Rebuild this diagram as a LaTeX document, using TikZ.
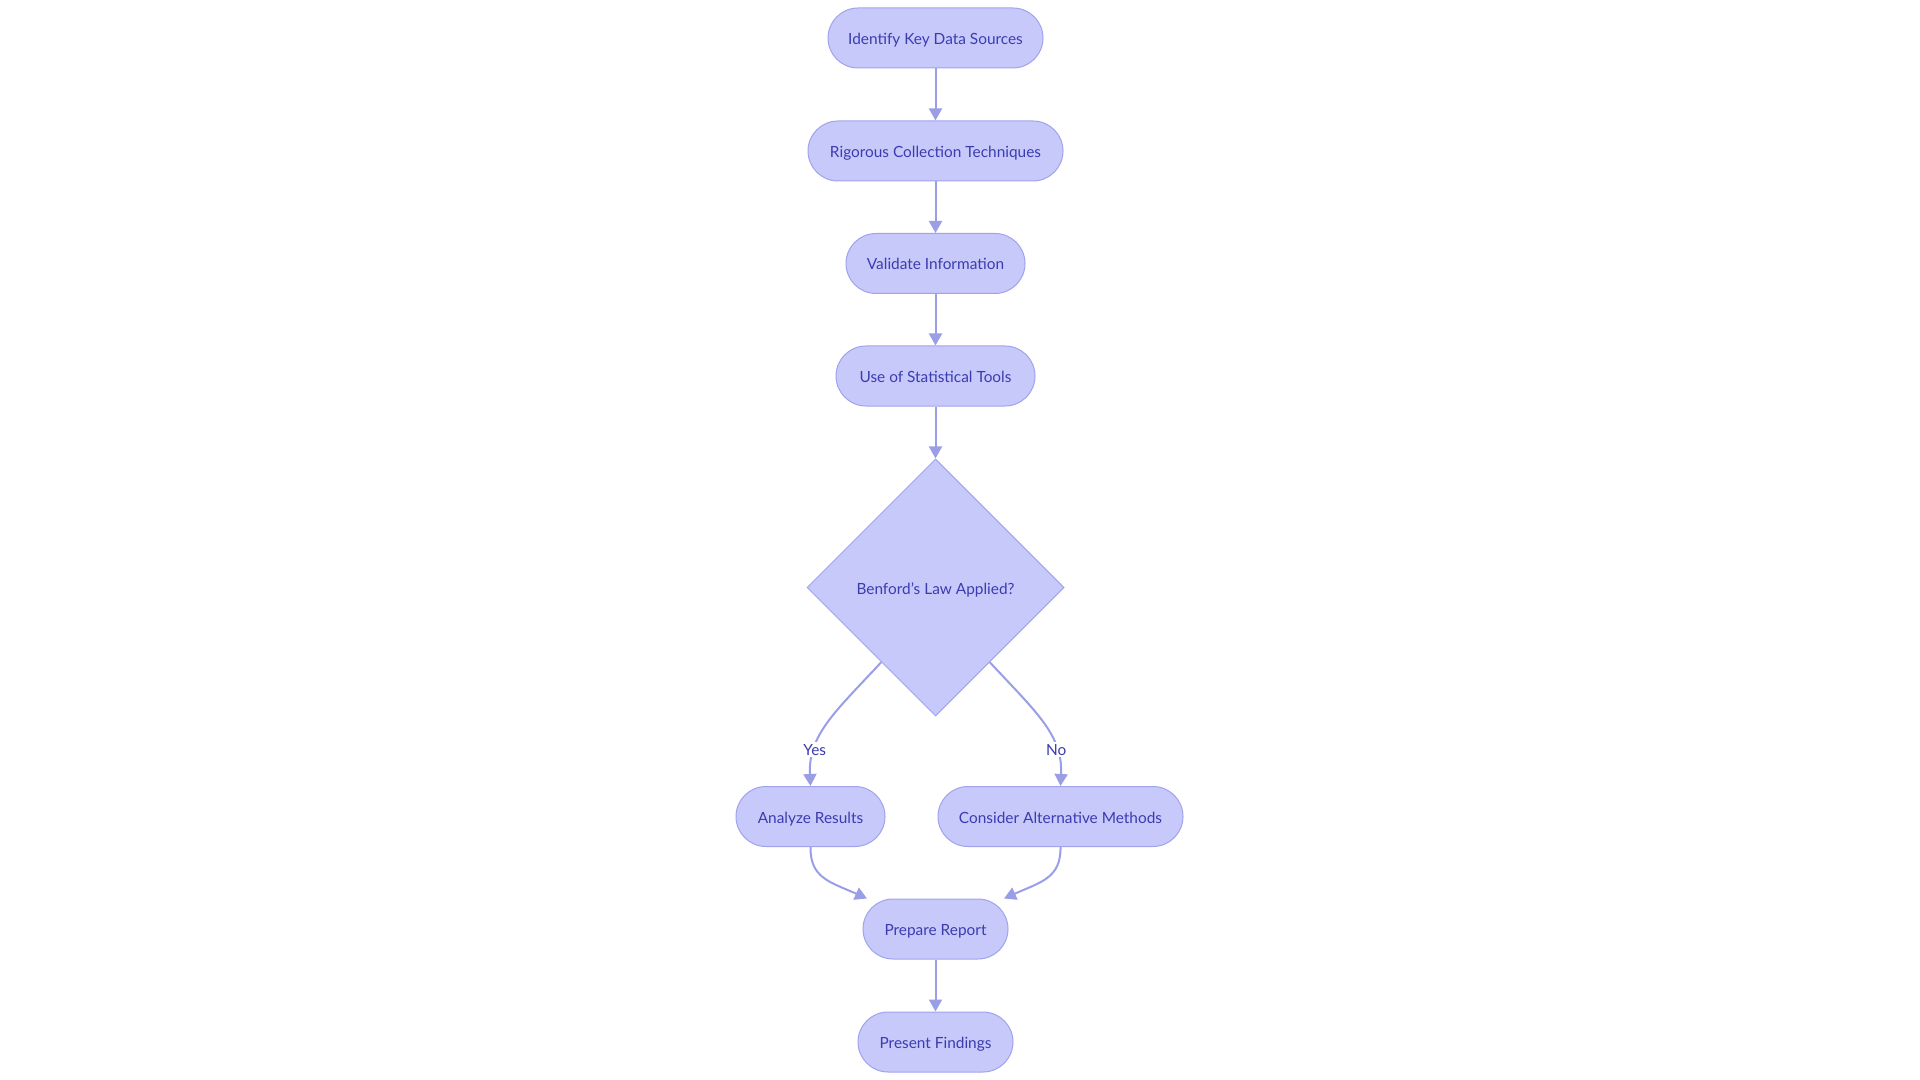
\documentclass[tikz,border=0pt]{standalone}
\usepackage{fontspec}
\setmainfont{Lato}
\usepackage{xcolor}
\usetikzlibrary{positioning,arrows.meta,shapes.geometric}

\definecolor{boxfill}{RGB}{200,201,251}
\definecolor{boxline}{RGB}{160,163,234}
\definecolor{edgeline}{RGB}{154,158,230}
\definecolor{boxtext}{RGB}{58,60,176}

\begin{document}
\begin{tikzpicture}[x=0.5pt, y=-0.5pt,
  pill/.style={draw=boxline, fill=boxfill, line width=0.5pt, rounded corners=15pt,
    minimum height=30pt, minimum width=#1, inner sep=0pt, text=boxtext,
    text height=7.3pt, text depth=0.8pt, font=\fontsize{7.7}{10}\selectfont},
  decision/.style={draw=boxline, fill=boxfill, line width=0.5pt, diamond, aspect=1,
    minimum width=128.5pt, minimum height=128.5pt, inner sep=0pt, text=boxtext,
    text height=7.3pt, text depth=0.8pt, font=\fontsize{7.7}{10}\selectfont},
  flow/.style={draw=edgeline, line width=1pt, -{Triangle[length=6pt, width=6.5pt]}},
  answer/.style={fill=white, text=boxtext, inner sep=1pt, font=\fontsize{7.7}{10}\selectfont}]
\useasboundingbox (0,0) rectangle (1920,1080);

% Main column
\node[pill=107.5pt] (sources) at (935.5,38) {Identify Key Data Sources};
\node[pill=127.5pt] (collect) at (935.5,151) {Rigorous Collection Techniques};
\node[pill=89.5pt] (validate) at (935.5,263.5) {Validate Information};
\node[pill=99.5pt] (stats) at (935.5,376) {Use of Statistical Tools};
\node[decision] (benford) at (935.5,587.5) {Benford's Law Applied?};

% Branches
\node[pill=74.5pt] (analyze) at (810.5,816.5) {Analyze Results};
\node[pill=122.5pt] (alternative) at (1060.5,816.5) {Consider Alternative Methods};

% Closing steps
\node[pill=72.5pt] (report) at (935.5,929) {Prepare Report};
\node[pill=77.5pt] (present) at (935.5,1042) {Present Findings};

% Arrows
\draw[flow] (benford.-126) .. controls (835,712) and (808,735) .. (analyze.north)
  node[answer, pos=0.73] {Yes};
\draw[flow] (benford.-54) .. controls (1036,712) and (1063,735) .. (alternative.north)
  node[answer, pos=0.73] {No};
\draw[flow] (sources) -- (collect);
\draw[flow] (collect) -- (validate);
\draw[flow] (validate) -- (stats);
\draw[flow] (stats) -- (benford);
\draw[flow] (analyze.south) .. controls (810,878) and (830,882) .. (report.156);
\draw[flow] (alternative.south) .. controls (1061,878) and (1041,882) .. (report.24);
\draw[flow] (report) -- (present);
\end{tikzpicture}
\end{document}
